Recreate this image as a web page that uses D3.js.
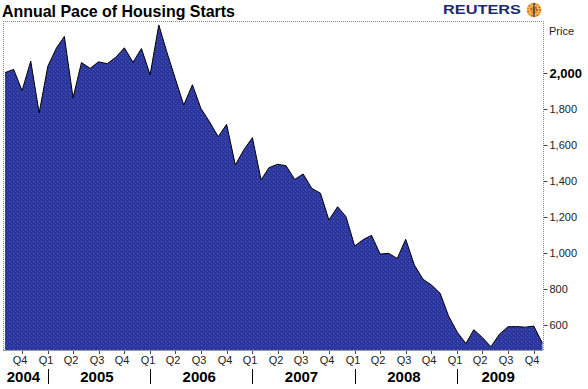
<!DOCTYPE html>
<html>
<head>
<meta charset="utf-8">
<script src="https://cdn.jsdelivr.net/npm/d3@7"></script>
<style>
  body { margin: 0; background: #fff; }
  svg { display: block; font-family: "Liberation Sans", Arial, sans-serif; }
</style>
</head>
<body>
<div id="chart"></div>
<script>
// monthly housing starts, annual pace (thousands), Jul 2004 .. Oct 2009
const firstMonth = "2004-07"
const starts = [
  2002, 2020, 1902, 2066, 1778, 2038,
  2140, 2203, 1862, 2058, 2026, 2062, 2052, 2088, 2140, 2060, 2136, 1990,
  2267, 2120, 1968, 1822, 1935, 1804, 1729, 1646, 1715, 1489, 1572, 1641,
  1406, 1474, 1493, 1485, 1409, 1439, 1359, 1332, 1183, 1257, 1202, 1039,
  1075, 1098, 994, 998, 970, 1076, 933, 854, 822, 776, 650, 560,
  497, 574, 530, 479, 550, 590, 591, 588, 594, 499
]
const yTicks = [600, 800, 1000, 1200, 1400, 1600, 1800, 2000]
const quarterLabels = ["Q1", "Q2", "Q3", "Q4"]
const years = [2004, 2005, 2006, 2007, 2008, 2009]

const w = 588
const h = 389
const plotL = 3, plotR = 543, plotT = 21, plotB = 350

// each month's value sits at the end of its month
const data = starts.map((v, i) => ({
  date: d3.utcMonth.offset(d3.utcParse("%Y-%m")(firstMonth), i + 1),
  value: v
}))

const xScale = d3.scaleUtc()
  .domain([new Date(Date.UTC(2004, 6, 25)), new Date(Date.UTC(2009, 10, 3))])
  .range([plotL, plotR])

const yScale = d3.scaleLinear()
  .domain([461, 2289])
  .range([plotB, plotT])

const svg = d3.select("#chart").append("svg")
  .attr("width", w)
  .attr("height", h)

// dotted blue fill
const pat = svg.append("defs").append("pattern")
  .attr("id", "dots")
  .attr("patternUnits", "userSpaceOnUse")
  .attr("width", 4).attr("height", 4)
pat.append("rect").attr("width", 4).attr("height", 4).attr("fill", "#2d359c")
pat.append("rect").attr("x", 1).attr("y", 1).attr("width", 1).attr("height", 1).attr("fill", "#4470d4")
pat.append("rect").attr("x", 3).attr("y", 3).attr("width", 1).attr("height", 1).attr("fill", "#3a52b8")

// title
svg.append("text")
  .attr("x", 2).attr("y", 17)
  .attr("font-size", 17).attr("font-weight", "bold")
  .attr("fill", "#000")
  .attr("textLength", 233).attr("lengthAdjust", "spacingAndGlyphs")
  .text("Annual Pace of Housing Starts")

// logo
svg.append("text")
  .attr("x", 443).attr("y", 14)
  .attr("font-size", 13).attr("font-weight", "bold")
  .attr("fill", "#1b2a6b")
  .attr("textLength", 78).attr("lengthAdjust", "spacingAndGlyphs")
  .text("REUTERS")
const globe = svg.append("g").attr("transform", "translate(534,10)")
globe.append("circle").attr("r", 7.5).attr("fill", "#f6c46a")
;[[0, 1.4], [3, 1.2], [6, 1]].forEach(([r, s]) => {
  const n = r === 0 ? 1 : Math.round(r * 2.2)
  d3.range(n).forEach(k => {
    const a = k / n * 2 * Math.PI
    globe.append("circle")
      .attr("cx", r * Math.cos(a)).attr("cy", r * Math.sin(a))
      .attr("r", s).attr("fill", k % 2 ? "#e8841a" : "#c8620e")
  })
})
globe.append("line").attr("x1", 0).attr("x2", 0).attr("y1", -7).attr("y2", 7)
  .attr("stroke", "#1b2a6b").attr("stroke-width", 1.2)

// frame
svg.append("line")
  .attr("x1", plotL).attr("x2", plotR).attr("y1", plotT + 0.5).attr("y2", plotT + 0.5)
  .attr("stroke", "#888").attr("stroke-dasharray", "1,1")
svg.append("line")
  .attr("x1", plotL + 0.5).attr("x2", plotL + 0.5).attr("y1", plotT).attr("y2", plotB)
  .attr("stroke", "#888").attr("stroke-dasharray", "1,1")

// area + outline
const area = d3.area()
  .x(d => xScale(d.date))
  .y0(plotB)
  .y1(d => yScale(d.value))
const line = d3.line()
  .x(d => xScale(d.date))
  .y(d => yScale(d.value))

svg.append("clipPath").attr("id", "clip")
  .append("rect").attr("x", plotL).attr("y", plotT).attr("width", plotR - plotL).attr("height", plotB - plotT)

svg.append("path")
  .datum(data)
  .attr("clip-path", "url(#clip)")
  .attr("fill", "url(#dots)")
  .attr("d", area)
svg.append("path")
  .datum(data)
  .attr("clip-path", "url(#clip)")
  .attr("fill", "none")
  .attr("stroke", "#000")
  .attr("stroke-width", 1)
  .attr("d", line)

// bottom line
svg.append("line")
  .attr("x1", plotL).attr("x2", plotR).attr("y1", plotB + 0.5).attr("y2", plotB + 0.5)
  .attr("stroke", "#999")

// right axis
const yAxis = d3.axisRight(yScale)
  .tickValues(yTicks)
  .tickSize(4)
  .tickPadding(2)
  .tickFormat(d3.format(","))
const gy = svg.append("g")
  .attr("transform", "translate(" + (plotR + 0.5) + ",0)")
  .call(yAxis)
gy.select(".domain").attr("stroke", "#888").attr("stroke-dasharray", "1,1")
  .attr("d", "M0," + plotT + "V" + plotB)
gy.selectAll(".tick line").attr("stroke", "#444")
gy.selectAll(".tick text")
  .attr("font-family", "Liberation Sans, Arial, sans-serif")
  .attr("font-size", 11)
  .attr("fill", "#222")
gy.selectAll(".tick text").filter(d => d === 2000)
  .attr("font-size", 13).attr("font-weight", "bold").attr("fill", "#000")

svg.append("text")
  .attr("x", 549).attr("y", 35)
  .attr("font-size", 11).attr("fill", "#222")
  .text("Price")

// quarter ticks
const quarters = d3.utcMonth.every(3).range(new Date(Date.UTC(2004, 9, 1)), xScale.domain()[1])
const gx = svg.append("g")
quarters.forEach(q => {
  const xq = Math.round(xScale(q))
  gx.append("line")
    .attr("x1", xq + 0.5).attr("x2", xq + 0.5)
    .attr("y1", plotB + 1).attr("y2", plotB + 4)
    .attr("stroke", "#444")
  gx.append("text")
    .attr("x", xq - 2).attr("y", 364)
    .attr("text-anchor", "middle")
    .attr("font-size", 11).attr("fill", "#222")
    .text(quarterLabels[q.getUTCMonth() / 3])
})

// years
years.forEach(yr => {
  const s = Math.max(xScale(new Date(Date.UTC(yr, 0, 1))), plotL)
  const e = Math.min(xScale(new Date(Date.UTC(yr + 1, 0, 1))), plotR)
  svg.append("text")
    .attr("x", (s + e) / 2 - 2).attr("y", 382)
    .attr("text-anchor", "middle")
    .attr("font-family", "Liberation Sans Narrow, Arial Narrow, sans-serif")
    .attr("font-size", 15).attr("font-weight", "bold")
    .attr("fill", "#000")
    .text(yr)
  if (yr > years[0]) {
    const xs = Math.round(xScale(new Date(Date.UTC(yr, 0, 1)))) + 0.5
    svg.append("line")
      .attr("x1", xs).attr("x2", xs).attr("y1", 369).attr("y2", 384)
      .attr("stroke", "#000")
  }
})
</script>
</body>
</html>
